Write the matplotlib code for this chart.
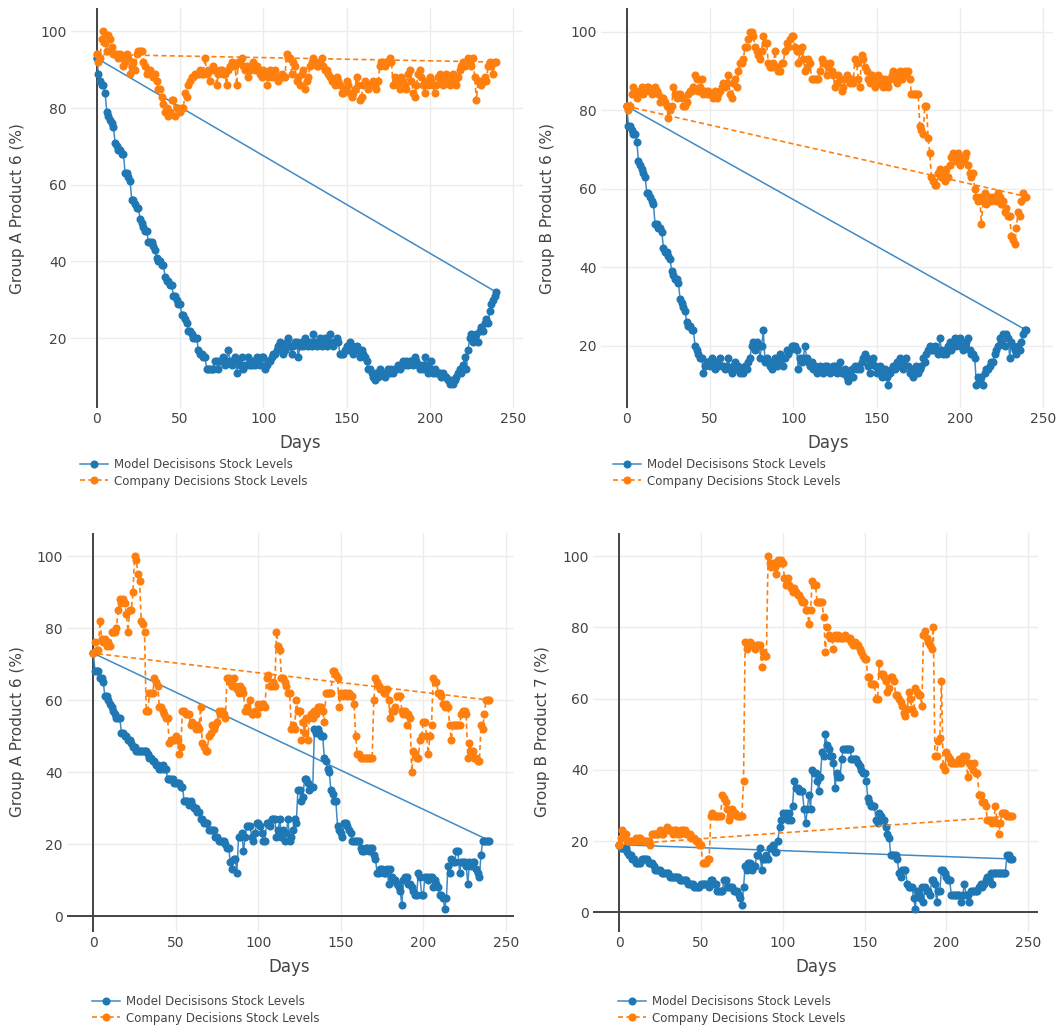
import numpy as np
import matplotlib
matplotlib.use("Agg")
import matplotlib.pyplot as plt

W, H = 1062, 1025

days = np.arange(241)

# Group A Product 6 (top left)
a6_top_model = [
    93, 89, 87, 86, 86, 84, 79, 78, 77, 76,
    75, 71, 70, 69, 69, 68, 68, 63, 63, 62,
    61, 56, 56, 55, 54, 54, 51, 50, 49, 48,
    48, 45, 45, 45, 44, 43, 41, 40, 40, 39,
    39, 36, 35, 35, 34, 34, 31, 31, 30, 29,
    29, 26, 26, 25, 24, 22, 22, 21, 20, 20,
    20, 17, 16, 16, 15, 15, 12, 12, 12, 12,
    12, 14, 14, 12, 14, 14, 15, 13, 14, 17,
    14, 13, 14, 15, 11, 14, 13, 15, 12, 13,
    13, 15, 13, 13, 14, 13, 15, 14, 13, 15,
    15, 12, 13, 14, 14, 15, 16, 16, 17, 18,
    19, 18, 16, 17, 19, 20, 18, 16, 18, 19,
    19, 15, 18, 19, 18, 20, 19, 18, 19, 18,
    21, 19, 18, 19, 20, 18, 19, 20, 18, 19,
    21, 19, 18, 19, 20, 19, 16, 16, 16, 17,
    18, 17, 19, 18, 16, 17, 18, 17, 15, 17,
    16, 15, 14, 12, 12, 11, 10, 9, 11, 10,
    12, 11, 11, 10, 11, 12, 11, 12, 11, 12,
    12, 13, 12, 13, 14, 13, 14, 13, 14, 14,
    13, 15, 14, 13, 12, 13, 12, 15, 13, 11,
    12, 14, 11, 12, 11, 11, 11, 10, 11, 10,
    10, 9, 8, 9, 8, 9, 10, 11, 12, 11,
    13, 15, 12, 17, 20, 21, 19, 20, 21, 19,
    22, 23, 22, 24, 25, 24, 27, 29, 30, 31,
    32,
]
a6_top_company = [
    94, 92, 93, 98, 100, 97, 95, 99, 98, 96,
    94, 94, 94, 93, 94, 93, 91, 92, 94, 93,
    89, 91, 92, 90, 94, 95, 95, 95, 92, 91,
    89, 90, 90, 89, 88, 89, 87, 85, 85, 83,
    81, 79, 80, 78, 79, 82, 82, 78, 80, 80,
    79, 80, 80, 84, 83, 86, 87, 88, 88, 89,
    89, 89, 90, 89, 89, 93, 89, 90, 87, 90,
    91, 90, 86, 89, 90, 90, 89, 89, 86, 90,
    91, 92, 91, 91, 86, 92, 92, 93, 91, 90,
    91, 88, 90, 91, 92, 90, 91, 90, 89, 88,
    90, 89, 86, 88, 90, 88, 89, 90, 88, 87,
    88, 89, 88, 88, 94, 93, 93, 89, 92, 91,
    87, 88, 86, 89, 90, 85, 87, 88, 91, 92,
    93, 92, 91, 91, 92, 93, 91, 90, 90, 89,
    88, 87, 87, 86, 88, 87, 86, 84, 84, 85,
    87, 86, 84, 83, 84, 85, 88, 86, 82, 83,
    86, 87, 86, 85, 86, 86, 87, 86, 85, 87,
    91, 92, 92, 91, 92, 92, 93, 92, 86, 88,
    87, 86, 85, 88, 87, 86, 85, 89, 90, 87,
    84, 83, 86, 89, 90, 88, 86, 84, 87, 86,
    88, 87, 86, 84, 86, 88, 89, 87, 86, 88,
    89, 87, 86, 88, 89, 87, 86, 88, 90, 91,
    92, 91, 92, 93, 92, 91, 93, 88, 82, 87,
    87, 86, 87, 88, 87, 91, 92, 91, 89, 92,
    92,
]

# Group B Product 6 (top right)
b6_model = [
    81, 76, 76, 75, 74, 74, 72, 67, 66, 65,
    64, 63, 59, 59, 58, 57, 56, 51, 51, 50,
    50, 49, 45, 44, 44, 43, 42, 39, 38, 37,
    37, 36, 32, 31, 30, 29, 26, 25, 25, 24,
    24, 20, 19, 18, 17, 17, 13, 15, 16, 16,
    15, 17, 16, 14, 16, 15, 17, 15, 15, 14,
    15, 17, 14, 13, 15, 16, 14, 15, 13, 14,
    13, 15, 14, 16, 17, 20, 21, 19, 21, 20,
    17, 20, 24, 16, 17, 16, 15, 14, 16, 17,
    15, 16, 18, 17, 15, 17, 19, 18, 19, 20,
    20, 20, 19, 14, 17, 16, 17, 20, 17, 16,
    15, 16, 14, 15, 13, 14, 15, 14, 13, 15,
    15, 14, 13, 14, 15, 15, 13, 15, 16, 13,
    13, 14, 12, 11, 13, 14, 12, 15, 14, 15,
    14, 16, 17, 18, 17, 15, 13, 16, 17, 15,
    13, 14, 15, 12, 13, 14, 12, 10, 13, 14,
    15, 14, 16, 15, 17, 16, 14, 15, 17, 15,
    13, 14, 12, 13, 15, 13, 14, 15, 17, 16,
    18, 19, 20, 19, 19, 20, 19, 18, 22, 19,
    18, 19, 18, 20, 21, 19, 20, 22, 20, 21,
    22, 20, 19, 20, 21, 22, 19, 18, 18, 17,
    10, 12, 11, 12, 10, 13, 14, 14, 15, 16,
    16, 18, 19, 20, 22, 21, 23, 20, 23, 22,
    17, 21, 20, 19, 18, 20, 19, 21, 23, 24,
    24,
]
b6_company = [
    81, 80, 81, 84, 86, 85, 83, 84, 85, 86,
    84, 85, 86, 86, 85, 84, 85, 86, 85, 84,
    82, 83, 83, 82, 81, 78, 80, 81, 86, 84,
    83, 84, 84, 83, 81, 81, 82, 84, 85, 85,
    86, 89, 88, 85, 86, 88, 84, 85, 84, 85,
    84, 84, 83, 85, 83, 84, 85, 86, 87, 86,
    87, 89, 84, 83, 87, 88, 86, 90, 92, 92,
    93, 96, 96, 98, 100, 100, 99, 96, 95, 94,
    93, 95, 99, 97, 97, 92, 91, 91, 92, 95,
    91, 90, 90, 92, 92, 95, 97, 96, 98, 99,
    99, 96, 95, 92, 95, 96, 93, 90, 91, 93,
    92, 88, 88, 88, 88, 88, 90, 93, 92, 92,
    89, 91, 92, 90, 89, 86, 87, 89, 88, 85,
    86, 88, 89, 88, 87, 88, 87, 93, 92, 88,
    86, 94, 93, 91, 90, 88, 87, 89, 88, 86,
    87, 89, 87, 88, 86, 88, 87, 86, 88, 89,
    90, 88, 87, 89, 90, 88, 89, 90, 89, 90,
    88, 84, 84, 84, 84, 84, 76, 75, 74, 81,
    81, 73, 69, 63, 62, 61, 61, 64, 65, 63,
    64, 62, 65, 63, 66, 68, 69, 68, 67, 69,
    66, 68, 67, 68, 69, 66, 64, 63, 64, 60,
    58, 57, 58, 51, 57, 59, 56, 57, 58, 57,
    58, 58, 57, 59, 58, 56, 57, 54, 55, 53,
    53, 48, 47, 46, 50, 54, 53, 57, 59, 58,
    58,
]

# Group A Product 6 (bottom left)
a6_bot_model = [
    73, 68, 68, 68, 66, 66, 65, 61, 61, 60,
    59, 58, 57, 56, 55, 55, 55, 51, 51, 50,
    50, 49, 49, 48, 47, 47, 46, 46, 46, 46,
    46, 46, 46, 45, 44, 44, 43, 43, 42, 42,
    41, 41, 42, 41, 41, 38, 38, 38, 38, 37,
    37, 37, 37, 36, 36, 32, 32, 32, 31, 32,
    31, 30, 30, 29, 29, 27, 27, 26, 26, 26,
    24, 24, 24, 24, 22, 22, 21, 21, 21, 21,
    20, 19, 19, 15, 13, 16, 16, 12, 22, 22,
    23, 18, 22, 25, 25, 25, 22, 21, 23, 26,
    26, 25, 23, 21, 21, 26, 26, 25, 27, 27,
    27, 22, 24, 27, 22, 24, 21, 23, 27, 21,
    22, 24, 27, 26, 35, 35, 32, 33, 38, 38,
    37, 35, 36, 36, 52, 51, 52, 51, 50, 50,
    44, 43, 41, 40, 35, 34, 32, 32, 25, 24,
    23, 22, 26, 26, 25, 24, 23, 21, 21, 21,
    21, 21, 19, 18, 18, 19, 19, 18, 19, 19,
    17, 16, 12, 12, 13, 13, 12, 12, 13, 9,
    13, 11, 10, 10, 9, 8, 7, 3, 10, 11,
    11, 9, 9, 8, 7, 6, 6, 12, 11, 6,
    6, 11, 11, 10, 11, 11, 8, 10, 9, 8,
    6, 6, 5, 2, 5, 14, 12, 16, 15, 15,
    18, 18, 12, 15, 15, 15, 14, 9, 15, 14,
    15, 15, 13, 12, 11, 17, 21, 21, 21, 21,
    21,
]
a6_bot_company = [
    73, 76, 74, 74, 82, 77, 76, 77, 75, 76,
    75, 79, 79, 79, 80, 85, 88, 87, 88, 87,
    84, 79, 85, 85, 90, 100, 99, 95, 93, 82,
    81, 79, 57, 57, 62, 62, 62, 66, 65, 64,
    58, 58, 57, 56, 55, 55, 48, 49, 49, 49,
    50, 49, 45, 47, 57, 57, 56, 56, 56, 53,
    54, 53, 52, 53, 52, 58, 48, 47, 46, 46,
    50, 51, 53, 52, 53, 54, 57, 56, 57, 56,
    55, 66, 66, 65, 64, 66, 64, 63, 62, 64,
    63, 62, 57, 58, 57, 60, 56, 56, 57, 56,
    59, 58, 59, 59, 58, 66, 67, 64, 64, 65,
    64, 79, 75, 74, 66, 66, 65, 64, 62, 62,
    52, 53, 52, 60, 57, 57, 49, 54, 51, 55,
    49, 55, 56, 55, 57, 56, 58, 58, 58, 57,
    54, 62, 62, 62, 62, 68, 68, 67, 66, 58,
    62, 61, 62, 62, 61, 62, 61, 61, 59, 50,
    45, 45, 44, 44, 44, 44, 44, 44, 44, 44,
    60, 66, 65, 64, 63, 63, 62, 62, 63, 60,
    55, 57, 57, 58, 61, 61, 61, 57, 56, 57,
    53, 56, 55, 40, 46, 45, 44, 44, 49, 50,
    54, 54, 50, 45, 50, 53, 66, 65, 65, 62,
    62, 61, 59, 58, 59, 58, 53, 49, 53, 53,
    53, 53, 53, 56, 57, 57, 56, 44, 48, 46,
    46, 44, 44, 43, 43, 53, 52, 56, 60, 60,
    60,
]

# Group B Product 7 (bottom right)
b7_model = [
    19, 18, 18, 18, 18, 17, 16, 16, 15, 15,
    14, 14, 14, 14, 15, 15, 15, 15, 14, 14,
    14, 13, 12, 12, 12, 12, 11, 11, 11, 11,
    11, 10, 10, 10, 10, 10, 10, 9, 9, 9,
    9, 9, 8, 8, 8, 8, 7, 7, 7, 7,
    8, 8, 8, 8, 8, 7, 9, 9, 8, 8,
    6, 6, 6, 6, 9, 9, 7, 7, 7, 7,
    6, 6, 6, 5, 4, 2, 7, 13, 12, 14,
    14, 12, 13, 13, 16, 16, 18, 12, 15, 15,
    16, 15, 18, 18, 19, 17, 17, 20, 24, 26,
    28, 27, 28, 26, 28, 26, 30, 37, 35, 35,
    34, 34, 34, 29, 25, 29, 33, 29, 40, 39,
    39, 37, 34, 38, 45, 44, 50, 47, 46, 44,
    44, 42, 35, 39, 38, 38, 43, 46, 46, 46,
    46, 46, 43, 43, 43, 43, 42, 41, 40, 39,
    39, 37, 32, 31, 30, 30, 30, 26, 25, 28,
    27, 26, 26, 24, 22, 21, 16, 16, 16, 16,
    15, 11, 10, 12, 12, 12, 8, 7, 7, 7,
    4, 1, 6, 5, 4, 7, 3, 7, 6, 6,
    5, 9, 9, 8, 3, 6, 6, 12, 12, 11,
    10, 9, 9, 5, 5, 5, 5, 5, 5, 3,
    5, 8, 5, 5, 3, 6, 6, 6, 6, 6,
    7, 8, 7, 8, 9, 10, 9, 11, 8, 11,
    11, 11, 11, 11, 11, 11, 11, 16, 16, 15,
    15,
]
b7_company = [
    19, 21, 23, 22, 22, 20, 20, 20, 20, 20,
    21, 20, 21, 21, 20, 20, 20, 20, 20, 19,
    22, 22, 22, 22, 22, 23, 22, 22, 23, 24,
    23, 23, 23, 22, 23, 23, 22, 22, 23, 23,
    23, 22, 22, 22, 21, 21, 21, 20, 20, 19,
    19, 14, 14, 14, 15, 15, 27, 28, 27, 27,
    27, 27, 27, 33, 32, 31, 29, 26, 27, 29,
    28, 28, 27, 27, 27, 27, 37, 76, 74, 75,
    76, 75, 75, 74, 75, 75, 75, 69, 73, 72,
    72, 100, 98, 97, 98, 97, 95, 99, 98, 99,
    98, 94, 92, 94, 92, 91, 90, 91, 90, 89,
    89, 88, 87, 87, 85, 85, 81, 85, 93, 92,
    92, 87, 87, 87, 87, 83, 73, 80, 78, 77,
    77, 74, 78, 77, 78, 77, 77, 77, 78, 77,
    77, 77, 76, 75, 76, 75, 75, 74, 73, 72,
    71, 71, 66, 66, 64, 64, 64, 60, 60, 70,
    67, 67, 66, 65, 62, 63, 66, 66, 65, 61,
    61, 60, 59, 58, 56, 55, 57, 62, 60, 57,
    56, 63, 62, 61, 61, 58, 78, 79, 77, 76,
    75, 74, 80, 44, 44, 48, 49, 65, 41, 40,
    45, 44, 43, 42, 42, 42, 42, 42, 43, 42,
    44, 43, 44, 38, 42, 41, 40, 42, 39, 39,
    33, 33, 31, 31, 30, 26, 26, 26, 25, 26,
    30, 25, 22, 25, 28, 28, 28, 27, 27, 27,
    27,
]

labels = ["Model Decisisons Stock Levels", "Company Decisions Stock Levels"]

# box = (left, top, right, bottom) in pixels; legend = top-left corner in pixels;
# xlab / ylab = centre of the axis titles in pixels
panels = [
    dict(model=a6_top_model, company=a6_top_company, ylabel="Group A Product 6 (%)",
         box=(71, 8, 523, 408), xlim=(-15.5, 256), ylim=(1.8, 106.1),
         yticks=[20, 40, 60, 80, 100], legend=(80, 458), zero=False,
         xlab=(300, 443), ylab=(18, 209)),
    dict(model=b6_model, company=b6_company, ylabel="Group B Product 6 (%)",
         box=(601, 8, 1053, 408), xlim=(-15.5, 256), ylim=(4.2, 106.0),
         yticks=[20, 40, 60, 80, 100], legend=(613, 458), zero=False,
         xlab=(828, 443), ylab=(548, 209)),
    dict(model=a6_bot_model, company=a6_bot_company, ylabel="Group A Product 6 (%)",
         box=(67, 533, 514, 932), xlim=(-16, 255), ylim=(-4.4, 106.4),
         yticks=[0, 20, 40, 60, 80, 100], legend=(92, 995), zero=True,
         xlab=(289, 967), ylab=(18, 732)),
    dict(model=b7_model, company=b7_company, ylabel="Group B Product 7 (%)",
         box=(593, 533, 1038, 932), xlim=(-16, 256), ylim=(-5.5, 106.5),
         yticks=[0, 20, 40, 60, 80, 100], legend=(618, 995), zero=True,
         xlab=(816, 967), ylab=(543, 732)),
]

plt.rcParams["font.family"] = ["DejaVu Sans"]
fig = plt.figure(figsize=(W / 100, H / 100), dpi=100)

for p in panels:
    l, t, r, b = p["box"]
    ax = fig.add_axes([l / W, 1 - b / H, (r - l) / W, (b - t) / H])
    for s in ax.spines.values():
        s.set_visible(False)
    ax.grid(True, color="#ececec", lw=1.0)
    ax.set_axisbelow(True)
    ax.axvline(0, color="#444444", lw=1.4, zorder=1.5)
    if p["zero"]:
        ax.axhline(0, color="#444444", lw=1.4, zorder=1.5)

    x = np.append(days, days[0])
    ym = np.append(p["model"], p["model"][0])
    yc = np.append(p["company"], p["company"][0])
    h1, = ax.plot(x, ym, color="#3f8ac6", lw=1.1, marker="o", ms=4.8,
                  mfc="#1f77b4", mec="#1f77b4", zorder=3)
    h2, = ax.plot(x, yc, color="#ff7f0e", lw=1.2, ls=(0, (3, 2)), marker="o",
                  ms=4.8, mfc="#ff7f0e", mec="#ff7f0e", zorder=4)

    ax.set_xlim(*p["xlim"])
    ax.set_ylim(*p["ylim"])
    ax.set_xticks([0, 50, 100, 150, 200, 250])
    ax.set_yticks(p["yticks"])
    ax.tick_params(length=0, labelsize=10, labelcolor="#444444", pad=3)

    xl = ax.set_xlabel("Days", fontsize=12, color="#444444")
    xl.set_va("center")
    ax.xaxis.set_label_coords(p["xlab"][0] / W, 1 - p["xlab"][1] / H, transform=fig.transFigure)
    yl = ax.set_ylabel(p["ylabel"], fontsize=11, color="#444444")
    yl.set_va("center")
    ax.yaxis.set_label_coords(p["ylab"][0] / W, 1 - p["ylab"][1] / H, transform=fig.transFigure)

    lx, ly = p["legend"]
    ax.legend([h1, h2], labels, loc="upper left", bbox_to_anchor=(lx / W, 1 - ly / H),
              bbox_transform=fig.transFigure, frameon=False, fontsize=8.5,
              handlelength=2.4, handletextpad=0.45, labelspacing=0.3,
              borderpad=0, borderaxespad=0, numpoints=1, labelcolor="#444444")

fig.savefig("out.png", dpi=100)
